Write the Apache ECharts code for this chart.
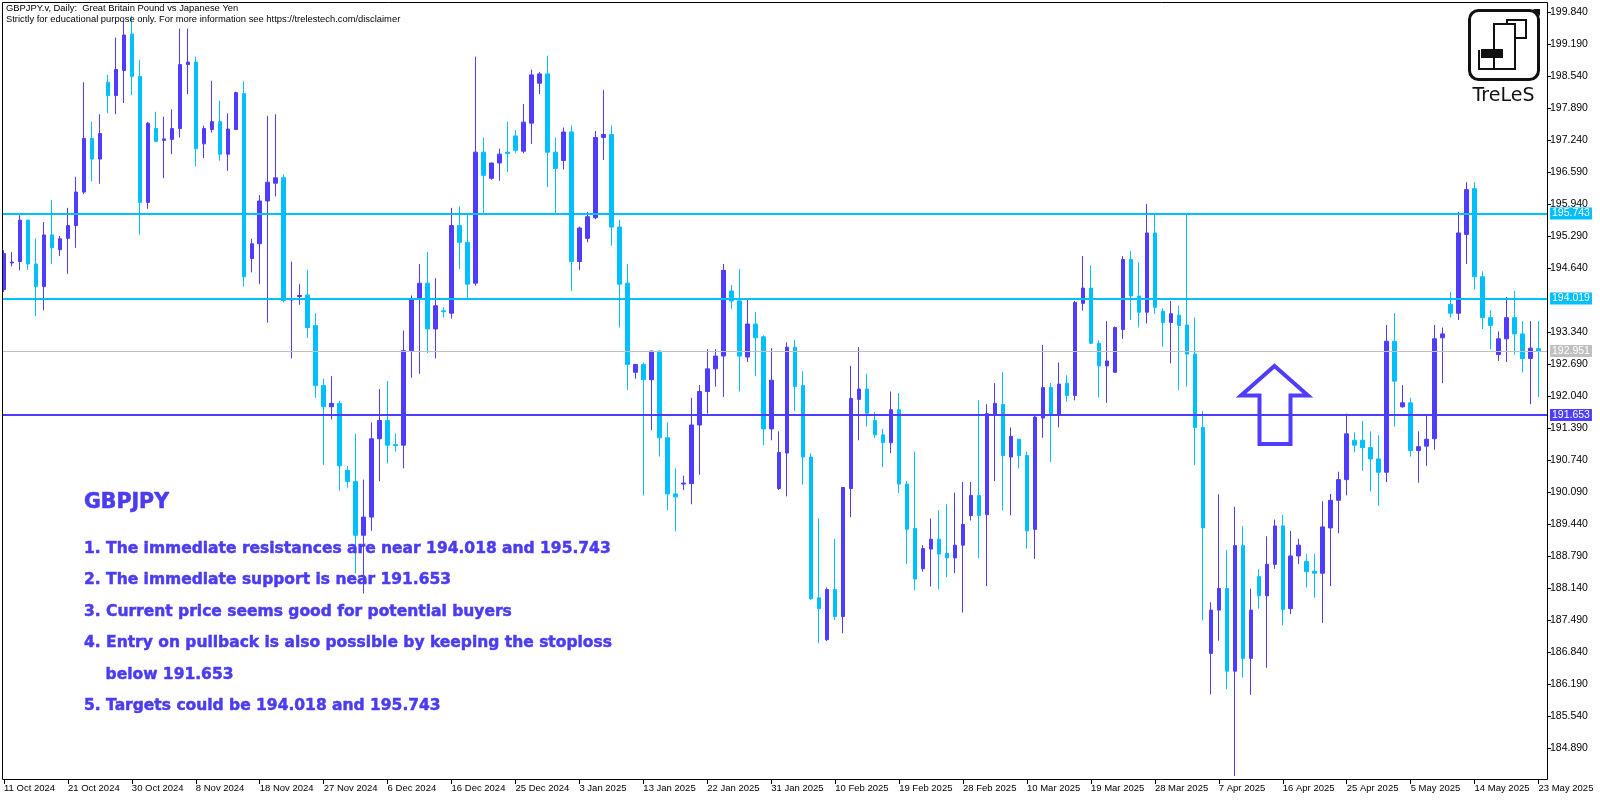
<!DOCTYPE html>
<html><head><meta charset="utf-8">
<script src="https://cdn.jsdelivr.net/npm/echarts@6/dist/echarts.min.js"></script>
<style>html,body{margin:0;padding:0;background:#fff}#c{width:1600px;height:800px}</style>
</head><body><div id="c"></div>
<script>
// ---- data (GBPJPY daily, 11 Oct 2024 - 23 May 2025, Sun-Fri bars) ----
const firstDate = '2024-10-11';
const opens = [
194.20,194.74,194.77,195.61,194.72,194.26,195.31,195.01,195.24,195.50,
196.18,197.27,196.85,198.41,198.14,198.65,199.39,198.53,195.97,197.47,
197.23,197.25,197.47,198.77,198.82,197.16,197.45,197.61,196.95,197.45,
198.18,194.83,195.13,196.00,196.36,196.47,193.99,194.06,194.09,193.47,
192.25,191.82,191.89,190.53,190.30,189.21,189.58,191.17,191.54,191.05,
191.04,192.96,194.00,194.33,193.40,193.77,193.72,195.50,195.16,194.33,
196.99,196.46,196.77,196.99,197.32,197.01,197.58,198.39,198.58,196.99,
196.82,197.40,194.77,195.24,195.66,197.29,197.35,195.47,194.33,192.52,
192.68,192.37,192.95,191.19,190.05,190.25,190.26,191.45,192.13,192.59,
192.85,194.17,193.97,192.83,193.50,193.24,191.37,190.16,190.88,193.03,
192.25,190.80,187.94,187.09,188.11,187.56,190.16,191.97,192.18,191.54,
191.25,191.09,191.76,190.25,189.35,188.53,188.93,189.13,188.84,188.75,
189.01,189.61,190.02,189.63,191.66,191.87,190.80,191.16,190.83,189.33,
191.59,192.21,191.66,192.30,192.05,193.92,194.23,193.11,192.65,192.52,
193.39,194.81,194.07,193.74,195.35,193.76,193.53,193.68,193.48,192.89,
191.40,186.81,187.69,188.13,186.45,189.00,186.71,188.37,187.98,188.62,
189.40,187.72,188.79,188.68,188.48,188.44,189.36,189.92,190.34,191.14,
191.14,190.99,190.76,190.49,193.15,191.82,191.90,190.93,191.02,191.17,
193.22,193.90,193.72,195.32,196.25,194.46,193.63,192.88,193.20,193.63,
193.30,192.80,193.00];
const closes = [
194.93,194.76,195.61,194.72,194.26,195.31,195.05,195.23,195.50,196.18,
197.27,196.85,197.37,198.14,198.67,199.37,198.53,195.97,197.58,197.21,
197.26,197.47,198.77,198.82,197.06,197.47,197.61,196.95,197.46,198.20,
194.46,195.13,196.00,196.38,196.47,193.98,194.01,194.08,193.43,192.25,
191.82,191.89,190.62,190.30,189.21,189.58,191.17,191.54,191.04,191.03,
192.96,194.00,194.33,193.40,193.87,193.75,195.50,195.16,194.31,196.99,
196.52,196.77,196.95,196.96,197.03,197.60,198.56,198.58,196.99,196.66,
197.40,194.77,195.45,195.68,197.29,197.35,195.47,194.31,192.68,192.68,
192.37,192.95,191.19,190.05,189.99,190.27,191.45,192.13,192.59,192.85,
194.59,193.97,192.85,193.50,193.22,191.37,192.36,190.89,193.03,192.23,
190.80,187.92,187.72,188.11,187.56,190.18,191.99,192.18,191.69,191.25,
191.09,191.76,190.25,189.33,188.32,188.94,189.13,188.83,188.75,189.01,
189.43,190.02,189.61,191.68,191.89,190.83,191.22,190.83,189.30,191.61,
192.21,191.66,192.28,192.05,193.94,194.23,193.11,192.65,192.75,193.43,
194.81,194.07,193.74,195.35,193.84,193.53,193.71,193.47,192.89,191.40,
189.36,187.69,188.13,186.45,189.00,186.71,187.69,187.98,188.62,189.40,
187.70,188.79,189.01,188.47,188.44,189.38,189.92,190.34,191.27,191.04,
190.99,190.76,190.49,193.15,192.34,191.90,190.93,191.01,191.16,193.20,
193.30,193.72,195.35,196.23,194.46,193.63,193.47,193.20,193.63,193.30,
192.80,193.01,192.951];
const lows = [
194.15,194.67,194.59,194.60,193.66,193.78,194.72,194.88,194.52,195.05,
196.14,196.40,196.35,197.78,197.76,197.99,198.15,195.32,195.84,197.19,
196.46,196.95,197.29,198.17,196.70,196.87,197.39,196.82,196.61,197.44,
194.26,194.55,194.31,193.53,196.09,193.94,192.80,193.89,193.22,192.00,
190.64,191.56,190.12,190.18,188.44,188.03,189.30,190.31,190.67,190.91,
190.57,192.41,192.49,192.91,192.80,193.63,193.61,194.62,194.02,194.28,
195.71,196.43,196.41,196.59,196.98,196.97,197.16,198.17,196.28,195.71,
196.64,194.17,194.60,195.16,195.63,196.83,195.09,193.43,192.16,192.39,
190.02,191.35,190.81,189.72,189.29,190.13,189.84,190.44,191.68,192.23,
192.02,193.81,192.13,192.73,192.44,191.04,191.14,190.13,190.00,191.73,
190.24,187.90,187.02,187.06,187.49,187.22,189.58,191.14,191.42,191.19,
190.59,190.88,190.07,188.63,188.10,188.47,188.17,188.11,188.36,188.44,
187.64,189.51,188.75,188.18,190.31,189.72,189.62,190.57,188.94,188.73,
191.19,190.70,191.40,191.92,191.95,193.77,193.09,192.01,191.90,192.51,
193.20,193.58,193.43,193.51,193.71,193.04,192.70,192.16,192.23,190.64,
187.48,185.98,187.07,186.08,184.32,186.32,185.97,187.72,186.52,188.53,
187.38,187.61,188.63,188.15,187.94,187.43,188.18,189.25,190.02,190.90,
190.52,190.10,189.81,190.29,191.42,191.80,190.81,190.28,190.62,190.95,
192.30,193.63,193.58,194.72,194.20,193.40,192.99,192.75,192.73,192.88,
192.52,191.87,192.02];
const highs = [
195.00,194.96,195.71,195.62,195.24,195.57,196.02,195.29,195.86,196.49,
198.41,197.61,197.76,198.56,199.32,199.65,199.76,198.87,197.60,197.81,
197.71,197.86,199.50,199.50,198.93,197.53,198.44,198.04,197.78,198.22,
198.43,195.23,196.12,197.73,197.76,196.54,194.77,194.31,194.60,193.72,
192.39,192.44,191.94,190.62,191.27,190.34,191.50,192.18,192.34,191.28,
193.37,194.08,194.72,194.96,194.43,193.84,195.86,195.89,195.73,198.93,
197.29,196.78,197.06,197.61,197.44,197.97,198.67,198.62,198.95,197.29,
197.49,197.53,195.48,195.78,197.42,198.25,197.53,195.61,194.72,192.69,
192.72,192.96,192.97,191.50,190.57,190.42,192.00,192.26,192.99,192.99,
194.72,194.29,194.62,194.00,193.74,193.27,193.01,191.32,193.13,193.17,
192.54,190.87,189.55,188.15,189.14,190.19,192.65,193.03,192.49,191.71,
191.37,192.13,192.10,190.31,190.91,189.01,189.55,189.72,189.84,190.08,
190.29,190.29,191.95,191.87,192.30,192.52,191.40,191.17,190.91,191.63,
193.08,192.30,192.72,192.46,193.97,194.88,194.69,193.17,193.56,193.45,
194.88,194.98,194.75,195.94,195.71,193.82,193.97,193.87,195.74,193.63,
191.73,187.85,190.04,188.91,189.79,189.40,188.13,188.52,189.19,189.53,
189.62,189.30,189.14,188.83,188.83,189.90,190.05,190.50,191.68,191.30,
191.53,191.32,191.24,193.48,193.72,192.26,192.00,191.32,191.66,193.48,
193.43,194.15,195.78,196.38,196.38,194.57,193.78,193.35,194.05,194.17,
193.56,193.56,193.56];
const resistanceLevels = [195.743, 194.019];
const supportLevel = 191.653;
const lastPrice = 192.951;
const priceTicks = [184.89,185.54,186.19,186.84,187.49,188.14,188.79,189.44,190.09,190.74,191.39,192.04,
  192.69,193.34,194.64,195.29,195.94,196.59,197.24,197.89,198.54,199.19,199.84];
const titleLines = ['GBPJPY.v, Daily:  Great Britain Pound vs Japanese Yen',
  'Strictly for educational purpose only. For more information see https://trelestech.com/disclaimer'];
const noteTitle = 'GBPJPY';
const noteLines = ['1. The immediate resistances are near 194.018 and 195.743',
  '2. The immediate support is near 191.653',
  '3. Current price seems good for potential buyers',
  '4. Entry on pullback is also possible by keeping the stoploss',
  '    below 191.653',
  '5. Targets could be 194.018 and 195.743'];

// ---- build ----
const PURPLE = '#4F3DFF', CYAN = '#00BFFF', TXT = '#4B3CF2';
const MONTHS = ['Jan','Feb','Mar','Apr','May','Jun','Jul','Aug','Sep','Oct','Nov','Dec'];
const categories = [];
{ const d = new Date(firstDate + 'T00:00:00Z');
  while (categories.length < opens.length) {
    if (d.getUTCDay() !== 6) categories.push(d.toISOString().slice(0, 10));
    d.setUTCDate(d.getUTCDate() + 1);
  } }
const ohlc = opens.map((o, i) => [o, closes[i], lows[i], highs[i]]);

const SF = '"Liberation Sans", Arial, sans-serif';

const lvlLine = (v, color, w) => [
  { yAxis: v, x: 3, lineStyle: { color: color, width: w, type: 'solid' },
    label: { show: true, backgroundColor: color, formatter: v.toFixed(3) } },
  { yAxis: v, x: 1547 }];

const chart = echarts.init(document.getElementById('c'), null, { renderer: 'canvas' });
const graphics = [];
graphics.push({ type: 'rect', z: 100, silent: true,
  shape: { x: 2.5, y: 2.5, width: 1545, height: 777 },
  style: { fill: 'none', stroke: '#000', lineWidth: 1 } });
titleLines.forEach((t, k) => graphics.push({ type: 'text', z: 101, silent: true, x: 6, y: 8 + k * 11.5,
  style: { text: t, fill: '#000', font: '9.4px ' + SF, verticalAlign: 'middle', textVerticalAlign: 'middle' } }));
graphics.push({ type: 'text', z: 101, silent: true, x: 84, y: 503,
  style: { text: noteTitle, fill: TXT, stroke: TXT, lineWidth: 0.6, font: 'bold 20.5px "DejaVu Sans"', verticalAlign: 'middle', textVerticalAlign: 'middle' } });
noteLines.forEach((t, k) => graphics.push({ type: 'text', z: 101, silent: true, x: 84, y: 549 + k * 31.4,
  style: { text: t, fill: TXT, stroke: TXT, lineWidth: 0.5, font: 'bold 15.5px "DejaVu Sans"', verticalAlign: 'middle', textVerticalAlign: 'middle', whiteSpace: 'pre' } }));
// up arrow annotation
graphics.push({ type: 'polygon', z: 101, silent: true,
  shape: { points: [[1274.5, 366], [1308, 395.5], [1290.5, 395.5], [1290.5, 444], [1259.5, 444], [1259.5, 395.5], [1241, 395.5]] },
  style: { fill: 'none', stroke: PURPLE, lineWidth: 4, lineJoin: 'miter' } });
// logo
graphics.push({ type: 'rect', z: 101, silent: true, shape: { x: 1469.5, y: 10.5, width: 69, height: 69, r: 9 },
  style: { fill: '#fff', stroke: '#111', lineWidth: 3 } });
const logoLines = [
  [[1479, 50], [1479, 69], [1515, 69], [1515, 24], [1494, 24], [1494, 69]],
  [[1507, 24], [1507, 20], [1526, 20], [1526, 38], [1515, 38]]];
logoLines.forEach(p => graphics.push({ type: 'polyline', z: 102, silent: true, shape: { points: p },
  style: { stroke: '#111', lineWidth: 2, fill: 'none', lineJoin: 'miter' } }));
graphics.push({ type: 'rect', z: 102, silent: true, shape: { x: 1481, y: 49, width: 22, height: 9 }, style: { fill: '#111' } });
graphics.push({ type: 'polygon', z: 103, silent: true, shape: { points: [[1533, 9], [1540, 9], [1540, 16]] }, style: { fill: '#111' } });
graphics.push({ type: 'text', z: 102, silent: true, x: 1503.5, y: 96,
  style: { text: 'TreLeS', fill: '#111', font: '19px "DejaVu Sans"', align: 'center', textAlign: 'center', verticalAlign: 'middle', textVerticalAlign: 'middle' } });

chart.setOption({
  animation: false,
  backgroundColor: '#fff',
  grid: { left: -0.5, top: 3, width: 1543, height: 777, containLabel: false },
  xAxis: {
    type: 'category', data: categories, boundaryGap: true,
    axisLine: { show: false },
    axisTick: { show: true, interval: 7, alignWithLabel: true, length: 4, lineStyle: { color: '#000' } },
    axisLabel: { interval: 7, align: 'left', margin: 3, color: '#000', fontFamily: SF, fontSize: 9.5,
      formatter: v => { const p = v.split('-'); return (+p[2]) + ' ' + MONTHS[+p[1] - 1] + ' ' + p[0]; } },
    splitLine: { show: false }
  },
  yAxis: {
    type: 'value', position: 'right', offset: 4.5, min: 184.24, max: 200.02,
    axisLine: { show: false },
    axisTick: { show: true, length: 4, customValues: priceTicks, lineStyle: { color: '#000' } },
    axisLabel: { customValues: priceTicks, margin: 3, color: '#000', fontFamily: SF, fontSize: 10.5,
      formatter: v => v.toFixed(3) },
    splitLine: { show: false }
  },
  series: [{
    type: 'candlestick', data: ohlc, barWidth: 4,
    itemStyle: { color: PURPLE, color0: CYAN, borderColor: PURPLE, borderColor0: CYAN, borderWidth: 1 },
    markLine: {
      silent: true, symbol: ['none', 'none'], animation: false,
      label: { show: true, position: 'end', distance: 3, color: '#fff', fontFamily: SF, fontSize: 10.5,
        padding: [1, 2, 0, 2] },
      data: [lvlLine(resistanceLevels[0], CYAN, 2), lvlLine(resistanceLevels[1], CYAN, 2),
             lvlLine(lastPrice, '#C0C0C0', 1), lvlLine(supportLevel, PURPLE, 2)]
    }
  }],
  graphic: graphics
});
</script></body></html>
